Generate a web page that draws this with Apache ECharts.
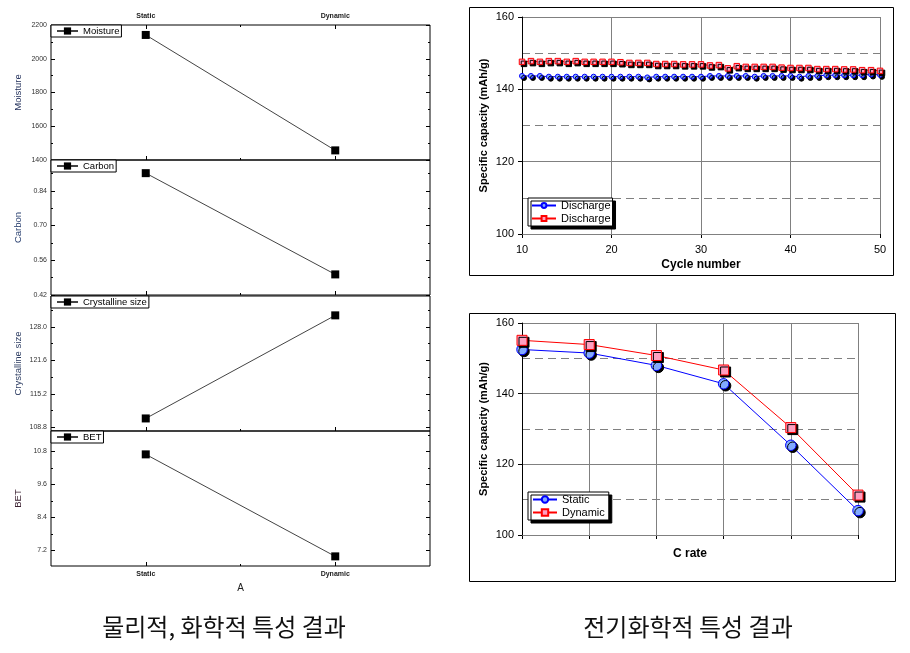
<!DOCTYPE html>
<html><head><meta charset="utf-8">
<script src="https://cdn.jsdelivr.net/npm/echarts@6/dist/echarts.min.js"></script>
<style>html,body{margin:0;padding:0;background:#fff}#c{width:910px;height:653px}</style>
</head><body><div id="c"></div>
<script>
// ---------------- data ----------------
const abCategories = ['Static', 'Dynamic'];
const moistureValues = [2141, 1457];
const carbonValues = [0.911, 0.503];
const crystallineValues = [110.5, 130.2];
const betValues = [10.69, 6.98];

const moistureTicks = [1400, 1600, 1800, 2000, 2200];
const carbonTicks = [0.42, 0.56, 0.70, 0.84];
const crystallineTicks = [108.8, 115.2, 121.6, 128.0];
const betTicks = [7.2, 8.4, 9.6, 10.8];

const moistureRange = [1400, 2200];
const carbonRange = [0.42, 0.964];
const crystallineRange = [108.1, 133.9];
const betRange = [6.63, 11.54];

const cycleNumbers = [10,11,12,13,14,15,16,17,18,19,20,21,22,23,24,25,26,27,28,29,30,31,32,33,34,35,36,37,38,39,40,41,42,43,44,45,46,47,48,49,50];
const cycleStatic = [143.7,143.7,143.7,143.5,143.5,143.5,143.5,143.5,143.5,143.5,143.5,
                     143.5,143.5,143.5,143.3,143.5,143.5,143.5,143.5,143.5,143.5,
                     143.7,143.7,143.7,143.7,143.7,143.5,143.7,143.7,143.7,143.7,
                     143.5,143.7,143.7,143.9,143.9,143.9,143.9,143.9,144.1,144.0];
const cycleDynamic = [147.6,147.8,147.6,147.8,147.8,147.6,147.8,147.6,147.6,147.6,147.6,
                      147.5,147.3,147.3,147.3,147.0,147.0,147.0,146.9,146.9,146.9,
                      146.6,146.7,145.8,146.4,146.2,146.2,146.2,146.2,146.0,145.9,
                      145.9,145.9,145.6,145.6,145.6,145.5,145.5,145.3,145.3,145.1];

const cRates = ['0.1C', '0.2C', '0.5C', '1C', '2C', '5C'];
const rateStatic = [152.5, 151.5, 148.0, 142.8, 125.4, 106.9];
const rateDynamic = [155.1, 153.9, 150.8, 146.7, 130.4, 111.3];

const leftCaption = '물리적, 화학적 특성 결과';
const rightCaption = '전기화학적 특성 결과';

// ---------------- chart ----------------
const FONT = '"Liberation Sans", Arial, sans-serif';
const panels = [
  {name: 'Moisture', values: moistureValues, ticks: moistureTicks, range: moistureRange, digits: 0, top: 25, nameColor: '#1d2b57'},
  {name: 'Carbon', values: carbonValues, ticks: carbonTicks, range: carbonRange, digits: 2, top: 160, nameColor: '#2a4070'},
  {name: 'Crystalline size', values: crystallineValues, ticks: crystallineTicks, range: crystallineRange, digits: 1, top: 296, nameColor: '#2a3a60'},
  {name: 'BET', values: betValues, ticks: betTicks, range: betRange, digits: 1, top: 431, nameColor: '#3a2030'}
];
function mids(t, r) {
  const step = t[1] - t[0], out = [];
  const b = t[0] - step / 2;
  if (b >= r[0] - 1e-9) out.push(+b.toFixed(6));
  t.forEach(v => { const m = v + step / 2; if (m <= r[1] + 1e-9) out.push(+m.toFixed(6)); });
  return out;
}
const catIdx = abCategories.map((c, j) => j + 1);
const catMid = [1.5];
const catLabel = v => abCategories[Math.round(v) - 1] || '';

const grid = [], xAxis = [], yAxis = [], series = [], legend = [];

panels.forEach((p, i) => {
  const g = grid.length;
  grid.push({left: 51, width: 379, top: p.top, height: 135, show: true, borderColor: '#000', borderWidth: 1, backgroundColor: 'transparent'});
  const xb = xAxis.length;
  xAxis.push({gridIndex: g, type: 'value', position: 'bottom', min: 0.5, max: 2.5,
    axisLine: {show: false}, splitLine: {show: false},
    axisTick: {show: true, inside: true, length: 4, customValues: catIdx, lineStyle: {color: '#000'}},
    axisLabel: {show: i === 3, customValues: catIdx, formatter: catLabel, fontSize: 7, fontWeight: 'bold', margin: 5, color: '#222', fontFamily: FONT},
    name: i === 3 ? 'A' : '', nameLocation: 'middle', nameGap: 17,
    nameTextStyle: {fontSize: 10, fontFamily: FONT, color: '#222'}});
  xAxis.push({gridIndex: g, type: 'value', position: 'bottom', min: 0.5, max: 2.5,
    axisLine: {show: false}, splitLine: {show: false},
    axisTick: {show: true, inside: true, length: 2, customValues: catMid, lineStyle: {color: '#000'}},
    axisLabel: {show: false}});
  if (i === 0) {
    xAxis.push({gridIndex: g, type: 'value', position: 'top', min: 0.5, max: 2.5,
      axisLine: {show: false}, splitLine: {show: false},
      axisTick: {show: true, inside: true, length: 4, customValues: catIdx, lineStyle: {color: '#000'}},
      axisLabel: {show: true, customValues: catIdx, formatter: catLabel, fontSize: 7, fontWeight: 'bold', margin: 5, color: '#222', fontFamily: FONT}});
    xAxis.push({gridIndex: g, type: 'value', position: 'top', min: 0.5, max: 2.5,
      axisLine: {show: false}, splitLine: {show: false},
      axisTick: {show: true, inside: true, length: 2, customValues: catMid, lineStyle: {color: '#000'}},
      axisLabel: {show: false}});
  }
  const yb = yAxis.length;
  const mi = mids(p.ticks, p.range);
  const common = {gridIndex: g, type: 'value', min: p.range[0], max: p.range[1], axisLine: {show: false}, splitLine: {show: false}};
  yAxis.push(Object.assign({}, common, {position: 'left',
    axisTick: {show: true, inside: true, length: 4, customValues: p.ticks, lineStyle: {color: '#000'}},
    axisLabel: {show: true, customValues: p.ticks, formatter: v => v.toFixed(p.digits), fontSize: 7, margin: 4, color: '#333', fontFamily: FONT},
    name: p.name, nameLocation: 'middle', nameGap: 28,
    nameTextStyle: {fontSize: 9.5, fontFamily: FONT, color: p.nameColor}}));
  yAxis.push(Object.assign({}, common, {position: 'left',
    axisTick: {show: true, inside: true, length: 2, customValues: mi, lineStyle: {color: '#000'}},
    axisLabel: {show: false}}));
  yAxis.push(Object.assign({}, common, {position: 'right',
    axisTick: {show: true, inside: true, length: 4, customValues: p.ticks, lineStyle: {color: '#000'}},
    axisLabel: {show: false}}));
  yAxis.push(Object.assign({}, common, {position: 'right',
    axisTick: {show: true, inside: true, length: 2, customValues: mi, lineStyle: {color: '#000'}},
    axisLabel: {show: false}}));
  series.push({type: 'line', name: p.name, xAxisIndex: xb, yAxisIndex: yb,
    data: abCategories.map((c, j) => [j + 1, p.values[j]]),
    symbol: 'rect', symbolSize: 8, itemStyle: {color: '#000'},
    lineStyle: {color: '#444', width: 1}, z: 3});
  legend.push({left: 51, top: p.top, orient: 'horizontal', data: [p.name], selectedMode: false,
    padding: [1, 2, 1, 5], itemWidth: 21, itemHeight: 9,
    textStyle: {fontSize: 9.5, fontFamily: FONT, color: '#000'},
    borderColor: '#000', borderWidth: 1, backgroundColor: '#fff'});
});

const shadow = {shadowColor: '#000', shadowOffsetX: 2, shadowOffsetY: 2, shadowBlur: 0};
const noShadow = {shadowColor: 'rgba(0,0,0,0)', shadowOffsetX: 0, shadowOffsetY: 0, shadowBlur: 0};
const blueFill = '#82aaff', pinkFill = '#ff9fc0';

function capacityAxes(g) {
  yAxis.push({gridIndex: g, type: 'value', position: 'left', min: 100, max: 160, interval: 10,
    axisLine: {show: false}, axisTick: {show: false}, axisLabel: {show: false},
    splitLine: {show: true, lineStyle: {color: '#808080', width: 1, type: [8, 5]}}, z: 0});
  const solidIdx = yAxis.length;
  yAxis.push({gridIndex: g, type: 'value', position: 'left', min: 100, max: 160, interval: 20,
    axisLine: {show: true, lineStyle: {color: '#000', width: 1}},
    axisTick: {show: true, length: 4, lineStyle: {color: '#000'}},
    axisLabel: {fontSize: 11, color: '#000', margin: 8, fontFamily: FONT},
    splitLine: {show: true, lineStyle: {color: '#808080', width: 1}},
    name: 'Specific capacity (mAh/g)', nameLocation: 'middle', nameGap: 33,
    nameTextStyle: {fontSize: 11, fontWeight: 'bold', color: '#000', fontFamily: FONT}, z: 1});
  return solidIdx;
}

// top-right: cycle
const g4 = grid.length;
grid.push({left: 522, top: 17, width: 358, height: 217});
const x4 = xAxis.length;
xAxis.push({gridIndex: g4, type: 'value', min: 10, max: 50, interval: 10,
  axisLine: {show: true, lineStyle: {color: '#000', width: 1}},
  axisTick: {show: true, length: 4, lineStyle: {color: '#000'}},
  axisLabel: {fontSize: 11, color: '#000', margin: 10, fontFamily: FONT},
  splitLine: {show: true, lineStyle: {color: '#808080', width: 1}},
  name: 'Cycle number', nameLocation: 'middle', nameGap: 25,
  nameTextStyle: {fontSize: 12, fontWeight: 'bold', color: '#000', fontFamily: FONT}});
const y4 = capacityAxes(g4);
series.push({type: 'line', name: 'Discharge (Static)', xAxisIndex: x4, yAxisIndex: y4,
  data: cycleNumbers.map((c, k) => [c, cycleStatic[k]]),
  symbol: 'circle', symbolSize: 5, lineStyle: {color: '#0000ff', width: 1},
  itemStyle: Object.assign({color: blueFill, borderColor: '#0000ff', borderWidth: 1}, shadow), z: 3});
series.push({type: 'line', name: 'Discharge (Dynamic)', xAxisIndex: x4, yAxisIndex: y4,
  data: cycleNumbers.map((c, k) => [c, cycleDynamic[k]]),
  symbol: 'rect', symbolSize: 5.5, lineStyle: {color: '#ff0000', width: 1},
  itemStyle: Object.assign({color: pinkFill, borderColor: '#ff0000', borderWidth: 1}, shadow), z: 3});
legend.push({left: 528, top: 198, orient: 'vertical', selectedMode: false,
  data: ['Discharge (Static)', 'Discharge (Dynamic)'], formatter: () => 'Discharge',
  itemWidth: 24, itemHeight: 6, itemGap: 2, padding: [2, 2, 2, 3],
  itemStyle: noShadow,
  textStyle: {fontSize: 11, color: '#000', fontFamily: FONT},
  borderColor: '#000', borderWidth: 1, backgroundColor: '#fff',
  shadowColor: '#000', shadowOffsetX: 3, shadowOffsetY: 3, shadowBlur: 0});

// bottom-right: C rate
const g5 = grid.length;
grid.push({left: 522, top: 323, width: 336, height: 212});
const x5 = xAxis.length;
xAxis.push({gridIndex: g5, type: 'category', data: cRates, boundaryGap: false,
  axisLine: {show: true, lineStyle: {color: '#000', width: 1}},
  axisTick: {show: true, length: 4, lineStyle: {color: '#000'}},
  axisLabel: {show: false},
  splitLine: {show: true, lineStyle: {color: '#808080', width: 1}},
  name: 'C rate', nameLocation: 'middle', nameGap: 13,
  nameTextStyle: {fontSize: 12, fontWeight: 'bold', color: '#000', fontFamily: FONT}});
const y5 = capacityAxes(g5);
series.push({type: 'line', name: 'Static', xAxisIndex: x5, yAxisIndex: y5,
  data: rateStatic, symbol: 'circle', symbolSize: 10.5, lineStyle: {color: '#0000ff', width: 1},
  itemStyle: Object.assign({color: blueFill, borderColor: '#0000ff', borderWidth: 1}, shadow), z: 3});
series.push({type: 'line', name: 'Dynamic', xAxisIndex: x5, yAxisIndex: y5,
  data: rateDynamic, symbol: 'rect', symbolSize: 10, lineStyle: {color: '#ff0000', width: 1},
  itemStyle: Object.assign({color: pinkFill, borderColor: '#ff0000', borderWidth: 1}, shadow), z: 3});
legend.push({left: 528, top: 492, orient: 'vertical', selectedMode: false,
  data: ['Static', 'Dynamic'],
  itemWidth: 24, itemHeight: 8, itemGap: 2, padding: [2, 4, 2, 4],
  itemStyle: noShadow,
  textStyle: {fontSize: 11, color: '#000', fontFamily: FONT},
  borderColor: '#000', borderWidth: 1, backgroundColor: '#fff',
  shadowColor: '#000', shadowOffsetX: 3, shadowOffsetY: 3, shadowBlur: 0});

const capFont = '"Noto Sans CJK KR", sans-serif';
const option = {
  animation: false,
  backgroundColor: '#fff',
  grid, xAxis, yAxis, series, legend,
  graphic: [
    {type: 'rect', shape: {x: 469.5, y: 7.5, width: 424, height: 268}, style: {fill: 'none', stroke: '#000', lineWidth: 1}, z: -1},
    {type: 'rect', shape: {x: 469.5, y: 313.5, width: 426, height: 268}, style: {fill: 'none', stroke: '#000', lineWidth: 1}, z: -1},
    {type: 'text', x: 224, y: 627, style: {text: leftCaption, fontSize: 24, fontFamily: capFont, fill: '#111', align: 'center', verticalAlign: 'middle'}},
    {type: 'text', x: 688, y: 627, style: {text: rightCaption, fontSize: 24, fontFamily: capFont, fill: '#111', align: 'center', verticalAlign: 'middle'}}
  ]
};
const chart = echarts.init(document.getElementById('c'), null, {renderer: 'canvas'});
chart.setOption(option);
</script>
</body></html>
